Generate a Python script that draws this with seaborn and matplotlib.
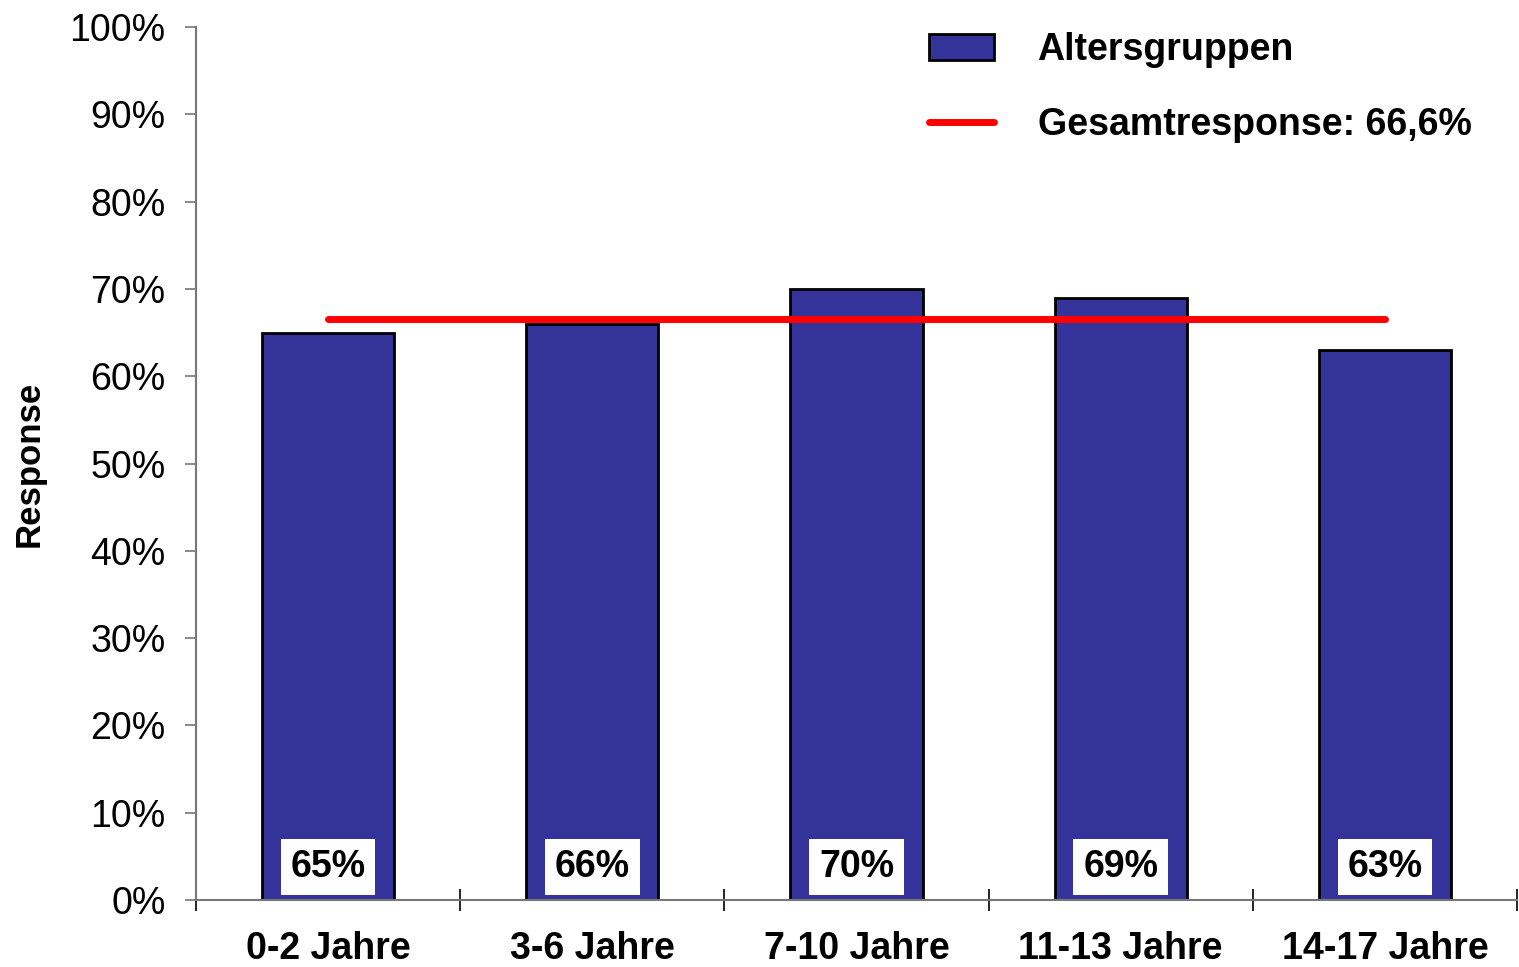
import matplotlib
matplotlib.use("Agg")
import pandas as pd
import matplotlib.pyplot as plt
import seaborn as sns
from matplotlib.patches import Patch
from matplotlib.lines import Line2D
from matplotlib.ticker import FixedLocator, PercentFormatter

# data
groups = ["0-2 Jahre", "3-6 Jahre", "7-10 Jahre", "11-13 Jahre", "14-17 Jahre"]
response = [65, 66, 70, 69, 63]
gesamt = 66.6
y_ticks = list(range(0, 101, 10))

bar_color = "#333399"
spine_color = "#777777"

sns.set_theme(style="white")
plt.rcParams["font.family"] = ["Liberation Sans", "DejaVu Sans"]
plt.rcParams["text.color"] = "black"
plt.rcParams["xtick.labelcolor"] = "black"
plt.rcParams["ytick.labelcolor"] = "black"
plt.rcParams["axes.labelcolor"] = "black"

data = pd.DataFrame({"gruppe": groups, "response": response})
data["gesamt"] = gesamt

fig = plt.figure(figsize=(15.19, 9.67), dpi=100)
ax = fig.add_axes([196 / 1519, 1 - 900 / 967, 1321 / 1519, 873 / 967])

sns.barplot(data=data, x="gruppe", y="response", color=bar_color,
            saturation=1, width=0.5, edgecolor="black", linewidth=2, ax=ax)
sns.lineplot(data=data, x="gruppe", y="gesamt", color="#ff0000",
             linewidth=5, ax=ax)

# white value boxes at the bottom of each bar
for i, v in enumerate(data.response):
    ax.text(i, 3.8, f"{v}%", ha="center", va="center", fontsize=27,
            fontweight="bold", color="black",
            bbox=dict(facecolor="white", edgecolor="none", pad=7))

ax.set_xlim(-0.5, len(groups) - 0.5)
ax.set_ylim(0, 100)
ax.yaxis.set_major_locator(FixedLocator(y_ticks))
ax.yaxis.set_major_formatter(PercentFormatter(decimals=0))

ax.xaxis.set_minor_locator(FixedLocator([i - 0.5 for i in range(len(groups) + 1)]))
ax.tick_params(axis="x", which="major", length=0, pad=22, labelsize=27,
               labelcolor="black")
ax.tick_params(axis="x", which="minor", direction="inout", length=16,
               width=1.2, color="black", bottom=True)
ax.tick_params(axis="y", which="major", direction="out", length=8,
               width=1.2, color=spine_color, left=True, pad=14, labelsize=27,
               labelcolor="black")
for lab in ax.get_xticklabels():
    lab.set_fontweight("bold")

ax.set_xlabel("")
ax.set_ylabel("Response", fontsize=25, fontweight="bold", color="black")
ax.yaxis.set_label_coords(-0.114, 0.5)

for side in ["top", "right"]:
    ax.spines[side].set_visible(False)
for side in ["left", "bottom"]:
    ax.spines[side].set_color(spine_color)
    ax.spines[side].set_linewidth(1.5)

handles = [
    Patch(facecolor=bar_color, edgecolor="black", linewidth=2),
    Line2D([0], [0], color="#ff0000", linewidth=5, solid_capstyle="round"),
]
leg = fig.legend(handles, ["Altersgruppen", "Gesamtresponse: 66,6%"],
                 loc="upper left", bbox_to_anchor=(895 / 1519, 1 + 2 / 967),
                 frameon=False, handlelength=1.75, handletextpad=1.15,
                 labelspacing=1.05, prop=dict(size=27, weight="bold"))

fig.savefig("out.png", dpi=100)
